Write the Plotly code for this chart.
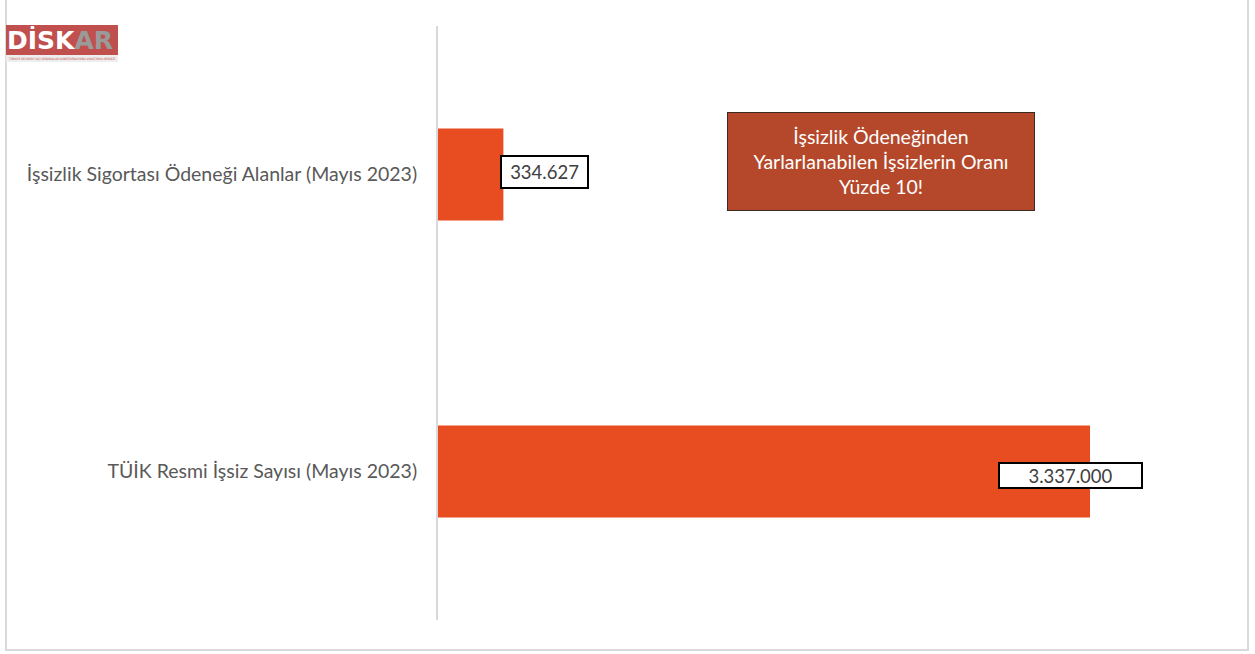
import plotly.graph_objects as go

categories = ["İşsizlik Sigortası Ödeneği Alanlar (Mayıs 2023)", "TÜİK Resmi İşsiz Sayısı (Mayıs 2023)"]
values = [334627, 3337000]
value_labels = ["334.627", "3.337.000"]
note_text = "İşsizlik Ödeneğinden<br>Yarlarlanabilen İşsizlerin Oranı<br>Yüzde 10!"

W, H = 1255, 654
L, R, T, B = 438, 17, 26, 34
PW, PH = W - L - R, H - T - B

def px(x):
    return (x - L) / PW

def py(y):
    return (H - B - y) / PH

fig = go.Figure(go.Bar(
    x=values, y=categories, orientation="h",
    marker=dict(color="#E84D22", line=dict(width=0)),
    width=0.31, hoverinfo="skip",
))

FONT = "Lato"
annotations = []
# data labels
annotations.append(dict(x=values[0], y=categories[0], xref="x", yref="y", text=value_labels[0],
                        showarrow=False, xanchor="left", xshift=-3, yshift=3,
                        font=dict(family=FONT, size=18.5, color="#404040"),
                        bgcolor="white", bordercolor="black", borderwidth=2, borderpad=0, width=85, height=30))
annotations.append(dict(x=values[1], y=categories[1], xref="x", yref="y", text=value_labels[1],
                        showarrow=False, xanchor="center", xshift=-20, yshift=-4,
                        font=dict(family=FONT, size=18.5, color="#404040"),
                        bgcolor="white", bordercolor="black", borderwidth=2, borderpad=0, width=141, height=23))
# note box
annotations.append(dict(x=px(881), y=py(161.5), xref="paper", yref="paper", text=note_text,
                        showarrow=False, xanchor="center", yanchor="middle",
                        font=dict(family=FONT, size=19.5, color="white"),
                        bgcolor="#B5482A", bordercolor="#3a2a22", borderwidth=1,
                        width=304, height=95, align="center"))
# logo text
annotations.append(dict(x=px(60), y=py(40), xref="paper", yref="paper",
                        text="<b>DİSK</b><span style='color:#9a9a9a'><b>AR</b></span>",
                        showarrow=False, xanchor="center", yanchor="middle",
                        font=dict(family="DejaVu Sans", size=25, color="white")))
annotations.append(dict(x=px(62), y=py(58.5), xref="paper", yref="paper",
                        text="TÜRKİYE DEVRİMCİ İŞÇİ SENDİKALARI KONFEDERASYONU ARAŞTIRMA MERKEZİ",
                        showarrow=False, xanchor="center", yanchor="middle",
                        font=dict(family="DejaVu Sans Condensed", size=3, color="#C0504D")))

shapes = [
    # outer frame
    dict(type="rect", xref="paper", yref="paper", x0=px(6), x1=px(1248), y0=py(650), y1=py(-5),
         line=dict(color="#D9D9D9", width=2), fillcolor="rgba(0,0,0,0)", layer="below"),
    # logo red block
    dict(type="rect", xref="paper", yref="paper", x0=px(6), x1=px(118), y0=py(55), y1=py(25),
         line=dict(width=0), fillcolor="#C0504D", layer="below"),
    dict(type="rect", xref="paper", yref="paper", x0=px(6), x1=px(118), y0=py(62), y1=py(55),
         line=dict(width=0), fillcolor="#EEEEEE", layer="below"),
]

fig.update_layout(
    width=W, height=H,
    margin=dict(l=L, r=R, t=T, b=B, pad=0),
    paper_bgcolor="white", plot_bgcolor="white",
    showlegend=False,
    xaxis=dict(range=[0, PW / (652 / 3337000)], visible=False, showgrid=False, zeroline=False),
    yaxis=dict(categoryorder="array", categoryarray=categories, autorange="reversed",
               range=[1.5, -0.5], showline=True, linecolor="#D9D9D9", linewidth=2,
               ticks="", ticklen=0, showgrid=False, zeroline=False, ticklabelstandoff=15,
               tickfont=dict(family=FONT, size=19.5, color="#595959")),
    annotations=annotations, shapes=shapes,
)

fig.write_html("out.html", config={"displayModeBar": False},
               post_script="document.body.style.margin='0';document.body.style.overflow='hidden';")
